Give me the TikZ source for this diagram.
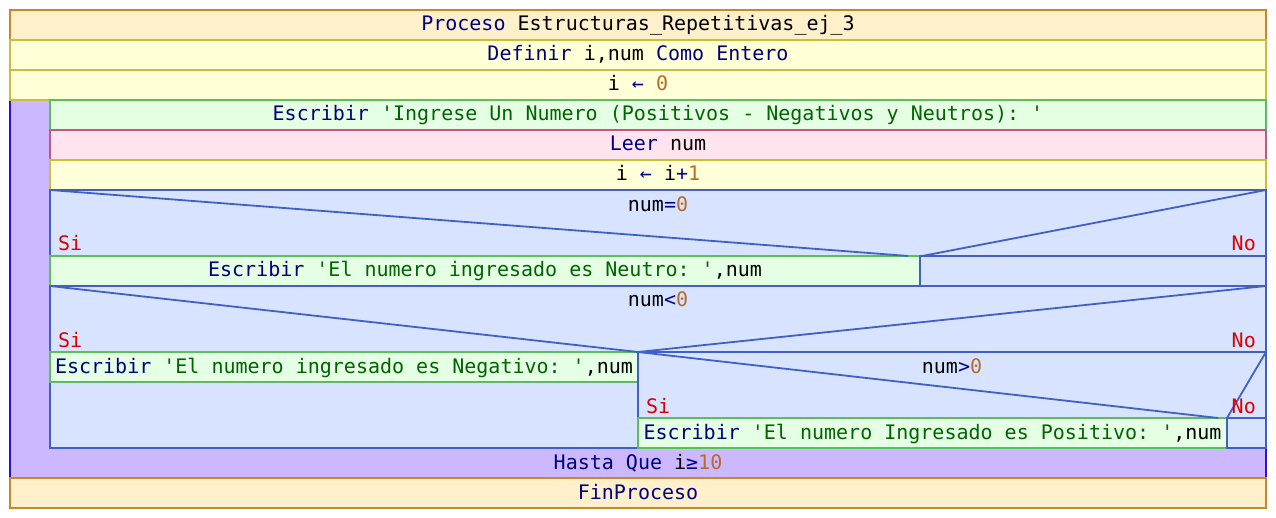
\documentclass[tikz,border=0pt]{standalone}
\usepackage{fontspec}
\setmonofont{DejaVu Sans Mono}

% syntax colours
\definecolor{kwcol}{RGB}{0,0,128}
\definecolor{strcol}{RGB}{0,100,0}
\definecolor{numcol}{RGB}{184,106,40}
\definecolor{opcol}{RGB}{0,0,150}
\definecolor{branchcol}{RGB}{220,0,0}
% block colours
\definecolor{procfill}{RGB}{255,240,204}
\definecolor{procline}{RGB}{200,135,40}
\definecolor{asgfill}{RGB}{255,255,216}
\definecolor{asgline}{RGB}{200,190,60}
\definecolor{outfill}{RGB}{228,255,228}
\definecolor{outline}{RGB}{90,190,90}
\definecolor{infill}{RGB}{255,228,240}
\definecolor{inline}{RGB}{190,90,130}
\definecolor{condfill}{RGB}{216,228,255}
\definecolor{condline}{RGB}{64,96,200}
\definecolor{loopfill}{RGB}{204,184,255}
\definecolor{loopline}{RGB}{48,16,208}

\newcommand\kwd[1]{\textcolor{kwcol}{#1}}
\newcommand\strg[1]{\textcolor{strcol}{#1}}
\newcommand\numb[1]{\textcolor{numcol}{#1}}
\newcommand\opr[1]{\textcolor{opcol}{#1}}

\begin{document}
\begin{tikzpicture}[x=1pt,y=-1pt,
  font=\fontsize{20}{24}\selectfont\ttfamily,
  txt/.style={anchor=base,inner sep=0pt},
  branch/.style={inner sep=0pt,text=branchcol},
  procbox/.style={fill=procfill,draw=procline,line width=2.2pt},
  asgbox/.style={fill=asgfill,draw=asgline,line width=2.2pt},
  outbox/.style={fill=outfill,draw=outline,line width=2.2pt},
  inbox/.style={fill=infill,draw=inline,line width=2.2pt},
  condbox/.style={fill=condfill,draw=condline,line width=2.2pt},
  loopbox/.style={fill=loopfill,draw=loopline,line width=2.2pt},
  diag/.style={draw=condline,line width=1.8pt}]
\useasboundingbox (0,0) rectangle (1276,518);

% loop body background (Repetir ... Hasta Que)
\path[loopbox] (10,100) rectangle (1266,478);

% sequential blocks
\path[procbox] (10,10) rectangle (1266,40);
\path[asgbox] (10,40) rectangle (1266,70);
\path[asgbox] (10,70) rectangle (1266,100);
\path[outbox] (50,100) rectangle (1266,130);
\path[inbox] (50,130) rectangle (1266,160);
\path[asgbox] (50,160) rectangle (1266,190);

% first condition: num=0
\path[condbox] (50,190) rectangle (1266,286);
\path[outbox] (50,256) rectangle (920,286);
\path[condbox] (920,256) rectangle (1266,286);
\coordinate (c1tl) at (50,190);
\coordinate (c1tr) at (1266,190);
\coordinate (c1l) at (908,256);
\coordinate (c1r) at (922,256);
\draw[diag] (c1tl) -- (c1l);
\draw[diag] (c1r) -- (c1tr);

% second condition: num<0
\path[condbox] (50,286) rectangle (1266,448);
\path[outbox] (50,352) rectangle (638,382);
\draw[condbox,fill=none] (638,352) -- (638,448);
\coordinate (c2tl) at (50,286);
\coordinate (c2tr) at (1266,286);
\coordinate (c2m) at (638,352);
\draw[diag] (c2tl) -- (c2m);
\draw[diag] (c2m) -- (c2tr);

% nested condition: num>0
\path[condbox] (638,352) rectangle (1266,448);
\path[outbox] (638,418) rectangle (1227,448);
\path[condbox] (1227,418) rectangle (1266,448);
\coordinate (c3tr) at (1266,352);
\coordinate (c3l) at (1218,418);
\coordinate (c3r) at (1227,418);
\draw[diag] (c2m) -- (c3l);
\draw[diag] (c3r) -- (c3tr);

% end of program
\path[procbox] (10,478) rectangle (1266,508);

% texts
\node[txt] (proc) at (638,31) {\kwd{Proceso} Estructuras\_Repetitivas\_ej\_3};
\node[txt] (def) at (638,61) {\kwd{Definir} i,num \kwd{Como} \kwd{Entero}};
\node[txt] (init) at (638,91) {i \opr{←} \numb{0}};
\node[txt] (ask) at (658,121) {\kwd{Escribir} \strg{'Ingrese Un Numero (Positivos - Negativos y Neutros): '}};
\node[txt] (read) at (658,151) {\kwd{Leer} num};
\node[txt] (inc) at (658,181) {i \opr{←} i\opr{+}\numb{1}};

\node[txt] (cond1) at (658,212) {num\opr{=}\numb{0}};
\node[branch,anchor=base west] (si1) at (58,251) {Si};
\node[branch,anchor=base east] (no1) at (1256,251) {No};
\node[txt] (neu) at (485,277) {\kwd{Escribir} \strg{'El numero ingresado es Neutro: '},num};

\node[txt] (cond2) at (658,307) {num\opr{<}\numb{0}};
\node[branch,anchor=base west] (si2) at (58,347) {Si};
\node[branch,anchor=base east] (no2) at (1256,347) {No};
\node[txt] (neg) at (344,373) {\kwd{Escribir} \strg{'El numero ingresado es Negativo: '},num};

\node[txt] (cond3) at (952,373) {num\opr{>}\numb{0}};
\node[branch,anchor=base west] (si3) at (646,413) {Si};
\node[branch,anchor=base east] (no3) at (1256,413) {No};
\node[txt] (pos) at (932.5,439) {\kwd{Escribir} \strg{'El numero Ingresado es Positivo: '},num};

\node[txt] (until) at (638,469) {\kwd{Hasta Que} i\opr{≥}\numb{10}};
\node[txt] (fin) at (638,499) {\kwd{FinProceso}};
\end{tikzpicture}
\end{document}
